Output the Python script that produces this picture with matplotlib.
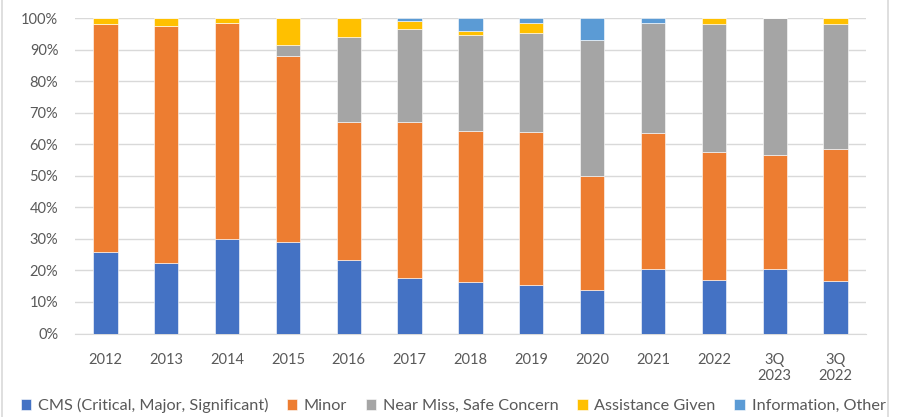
import numpy as np
import matplotlib.pyplot as plt

# ----- Data (percent of total per period) -----
periods = ['2012', '2013', '2014', '2015', '2016', '2017', '2018', '2019',
           '2020', '2021', '2022', '3Q\n2023', '3Q\n2022']
cms = [25.8, 22.2, 30.1, 29.1, 23.3, 17.5, 16.3, 15.5, 13.9, 20.6, 17.1, 20.6, 16.8]
minor = [72.2, 75.2, 68.2, 58.8, 43.7, 49.4, 47.9, 48.5, 36.0, 43.1, 40.4, 36.0, 41.7]
near_miss = [0.0, 0.0, 0.0, 3.5, 26.9, 29.5, 30.3, 31.2, 43.0, 34.6, 40.5, 43.4, 39.5]
assistance = [2.0, 2.6, 1.7, 8.6, 6.1, 2.5, 1.5, 3.3, 0.0, 0.0, 2.0, 0.0, 2.0]
info_other = [0.0, 0.0, 0.0, 0.0, 0.0, 1.1, 4.0, 1.5, 7.1, 1.7, 0.0, 0.0, 0.0]

series_names = ['CMS (Critical, Major, Significant)', 'Minor',
                'Near Miss, Safe Concern', 'Assistance Given', 'Information, Other']
series_colors = ['#4472C4', '#ED7D31', '#A5A5A5', '#FFC000', '#5B9BD5']

plt.rcParams['font.family'] = ['Lato', 'DejaVu Sans']


def main():
    fig = plt.figure(figsize=(8.97, 4.17), dpi=100)
    ax = fig.add_axes([0.0836, 0.2002, 0.8818, 0.7566])

    x = np.arange(len(periods))
    bottom = np.zeros(len(periods))
    for name, vals, color in zip(series_names,
                                 [cms, minor, near_miss, assistance, info_other],
                                 series_colors):
        vals = np.array(vals) / 100.0
        ax.bar(x, vals, width=0.4, bottom=bottom, color=color, label=name,
               edgecolor='white', linewidth=0.4, zorder=3)
        bottom += vals

    ax.set_xlim(-0.5, len(periods) - 0.5)
    ax.set_ylim(0, 1.0)
    ax.set_yticks(np.arange(0, 1.01, 0.1))
    ax.set_yticklabels([f'{int(round(v * 100))}%' for v in np.arange(0, 1.01, 0.1)])
    ax.set_xticks(x)
    ax.set_xticklabels(periods)
    ax.tick_params(axis='both', length=0, labelsize=10.5, labelcolor='#595959')
    ax.tick_params(axis='x', pad=14)
    ax.tick_params(axis='y', pad=12)
    ax.grid(axis='y', color='#D9D9D9', linewidth=1.0, zorder=0)
    for side in ['top', 'right', 'left']:
        ax.spines[side].set_visible(False)
    ax.spines['bottom'].set_color('#D9D9D9')

    fig.legend(loc='lower center', bbox_to_anchor=(0.505, -0.025), ncol=5,
               frameon=False, fontsize=11.7, handlelength=0.65, handleheight=0.65,
               handletextpad=0.4, columnspacing=1.15, labelcolor='#595959')

    # chart area border lines at left and right edges
    fig.add_artist(plt.Line2D([2 / 897, 2 / 897], [0, 1], color='#D9D9D9', lw=1.2))
    fig.add_artist(plt.Line2D([888 / 897, 888 / 897], [0, 1], color='#D9D9D9', lw=1.2))

    fig.savefig('out.png', dpi=100)


if __name__ == '__main__':
    main()
